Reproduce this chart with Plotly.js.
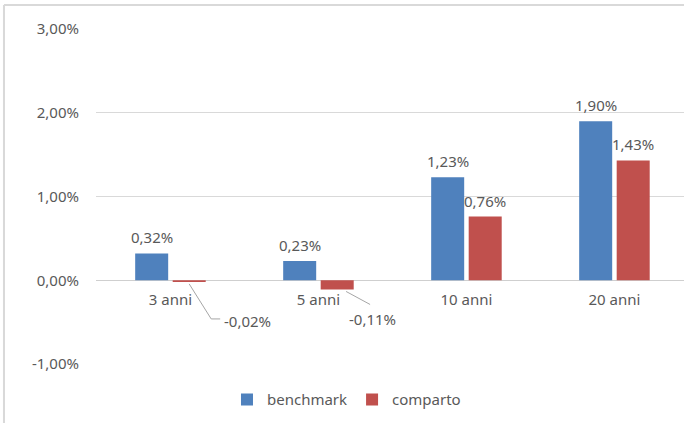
<!DOCTYPE html>
<html>
<head>
<meta charset="utf-8">
<script src="https://cdn.plot.ly/plotly-3.0.1.min.js"></script>
<style>
html,body{margin:0;padding:0;background:#fff;}
#chart{width:684px;height:423px;}
</style>
</head>
<body>
<div id="chart"></div>
<script>
// ---- data ----
const categories = ['3 anni', '5 anni', '10 anni', '20 anni'];
const benchmark = [0.32, 0.23, 1.23, 1.90];
const comparto = [-0.02, -0.11, 0.76, 1.43];
const seriesNames = ['benchmark', 'comparto'];
const yTickValues = [-1, 0, 1, 2, 3];
const yTickLabels = ['-1,00%', '0,00%', '1,00%', '2,00%', '3,00%'];

// ---- styling ----
const FONT = '"Noto Sans", "Open Sans", sans-serif';
const FS = 15;
const GREY = '#595959';
const GRID = '#d9d9d9';
const BLUE = '#4F81BD';
const RED = '#C0504D';
const BARGAP = 0.493;
const fmt = v => v.toFixed(2).replace('.', ',') + '%';
const idx = categories.map((_, i) => i);
const slot = (1 - BARGAP) / 2;   // width of each bar slot in category units

const traces = [
  {type: 'bar', name: seriesNames[0], x: idx, y: benchmark, marker: {color: BLUE}, hoverinfo: 'skip'},
  {type: 'bar', name: seriesNames[1], x: idx, y: comparto, marker: {color: RED}, hoverinfo: 'skip'}
];

const annotations = [];
const shapes = [];

// value labels above positive bars
[benchmark, comparto].forEach((vals, s) => {
  const off = (s === 0 ? -1 : 1) * slot / 2;
  vals.forEach((v, i) => {
    if (v >= 0) {
      annotations.push({
        x: i + off, y: v, xref: 'x', yref: 'y', text: fmt(v), showarrow: false,
        yanchor: 'bottom', yshift: 4,
        font: {family: FONT, size: FS, color: GREY}
      });
    }
  });
});

// labels of negative bars, moved aside with leader lines
const leaderStyles = [
  {dx: 0, path: 'M 0,-2 L 22,-37 L 31,-37', tx: 58, ty: -39},
  {dx: 0.06, path: 'M 0,-2 L 24,-15', tx: 26, ty: -30}
];
let k = 0;
comparto.forEach((v, i) => {
  if (v < 0) {
    const st = leaderStyles[Math.min(k, leaderStyles.length - 1)];
    const xa = i + slot / 2 + st.dx;
    annotations.push({
      x: xa, y: v, xref: 'x', yref: 'y', text: fmt(v), showarrow: false,
      xshift: st.tx, yshift: st.ty,
      font: {family: FONT, size: FS, color: GREY}
    });
    shapes.push({
      type: 'path', xref: 'x', yref: 'y', xsizemode: 'pixel', ysizemode: 'pixel',
      xanchor: xa, yanchor: v, path: st.path,
      line: {color: '#a6a6a6', width: 1}
    });
    k++;
  }
});

// outer frame (light grey border of the original picture)
shapes.push({type: 'line', xref: 'paper', yref: 'paper', x0: -0.1565, x1: -0.1565, y0: -0.3, y1: 1.0716,
  line: {color: GRID, width: 2}});
shapes.push({type: 'line', xref: 'paper', yref: 'paper', x0: -0.1565, x1: 1.2, y0: 1.0716, y1: 1.0716,
  line: {color: GRID, width: 2}});

const layout = {
  width: 684, height: 423,
  margin: {l: 96, r: 0, t: 29, b: 59, pad: 0},
  paper_bgcolor: '#fff', plot_bgcolor: '#fff',
  font: {family: FONT, size: FS, color: GREY},
  barmode: 'group', bargap: BARGAP, bargroupgap: 0.12,
  showlegend: true,
  legend: {orientation: 'h', x: 0.426, xanchor: 'center', y: -0.107, yanchor: 'middle',
    font: {family: FONT, size: FS, color: GREY}, itemwidth: 30, tracegroupgap: 0},
  xaxis: {
    type: 'linear', range: [-0.503, 3.47], tickvals: idx, ticktext: categories,
    showgrid: false, zeroline: false, showline: false, ticks: '',
    anchor: 'free', position: (364 - 279.5) / 335, ticklabelstandoff: 9,
    tickfont: {family: FONT, size: FS, color: GREY}, fixedrange: true
  },
  yaxis: {
    range: [-1, 3], tickvals: yTickValues, ticktext: yTickLabels,
    showgrid: true, gridcolor: GRID, gridwidth: 1,
    zeroline: true, zerolinecolor: '#cfcfcf', zerolinewidth: 1,
    showline: false, ticks: '', ticklabelstandoff: 16,
    tickfont: {family: FONT, size: FS, color: GREY}, fixedrange: true
  },
  annotations: annotations,
  shapes: shapes
};

Plotly.newPlot('chart', traces, layout, {displayModeBar: false, staticPlot: true});
</script>
</body>
</html>
